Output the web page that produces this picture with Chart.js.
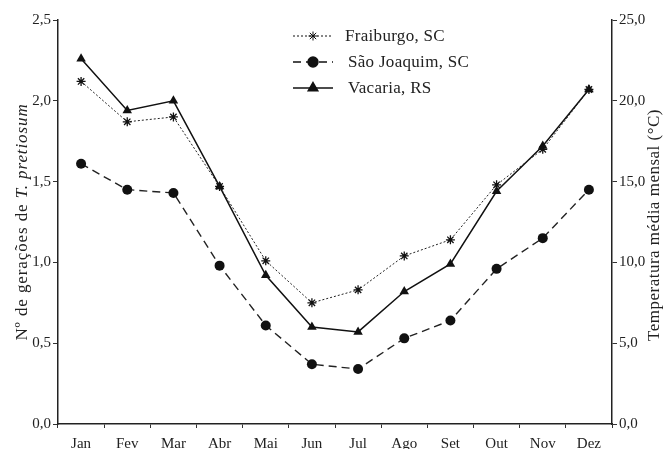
<!DOCTYPE html>
<html><head><meta charset="utf-8">
<script src="https://cdn.jsdelivr.net/npm/chart.js@4/dist/chart.umd.min.js"></script>
<style>html,body{margin:0;padding:0;background:#fff}canvas{display:block}</style>
</head><body>
<canvas id="c" width="664" height="449"></canvas>
<script>
const months = ['Jan','Fev','Mar','Abr','Mai','Jun','Jul','Ago','Set','Out','Nov','Dez'];
const fraiburgo = [2.12,1.87,1.90,1.47,1.01,0.75,0.83,1.04,1.14,1.48,1.70,2.07];
const saoJoaquim = [1.61,1.45,1.43,0.98,0.61,0.37,0.34,0.53,0.64,0.96,1.15,1.45];
const vacaria = [2.26,1.94,2.00,1.47,0.92,0.60,0.57,0.82,0.99,1.44,1.72,2.07];
const leftTitleA = 'Nº de gerações de ';
const leftTitleB = 'T. pretiosum';
const rightTitle = 'Temperatura média mensal (°C)';
const seriesNames = ['Fraiburgo, SC','São Joaquim, SC','Vacaria, RS'];

const FONT = '"Liberation Serif", "Times New Roman", serif';
const fmt = v => Number(v).toFixed(1).replace('.', ',');

const titlesPlugin = {
  id: 'titles',
  afterDraw(chart) {
    const ctx = chart.ctx;
    ctx.save();
    ctx.fillStyle = '#222';
    ctx.textBaseline = 'alphabetic';
    ctx.letterSpacing = '0.9px';
    ctx.translate(27, 222);
    ctx.rotate(-Math.PI / 2);
    ctx.font = '17px ' + FONT;
    const wA = ctx.measureText(leftTitleA).width;
    ctx.font = 'italic 17px ' + FONT;
    const wB = ctx.measureText(leftTitleB).width;
    const x0 = -(wA + wB) / 2;
    ctx.textAlign = 'left';
    ctx.font = '17px ' + FONT;
    ctx.fillText(leftTitleA, x0, 0);
    ctx.font = 'italic 17px ' + FONT;
    ctx.fillText(leftTitleB, x0 + wA, 0);
    ctx.restore();

    ctx.save();
    ctx.fillStyle = '#222';
    ctx.textBaseline = 'alphabetic';
    ctx.textAlign = 'center';
    ctx.letterSpacing = '0.5px';
    ctx.translate(659, 225);
    ctx.rotate(-Math.PI / 2);
    ctx.font = '17px ' + FONT;
    ctx.fillText(rightTitle, 0, 0);
    ctx.restore();

    // legend
    ctx.save();
    const ys = [36, 62, 88];
    chart.data.datasets.forEach((ds, i) => {
      const y = ys[i];
      ctx.strokeStyle = '#111';
      ctx.lineWidth = ds.borderWidth;
      ctx.setLineDash(ds.borderDash || []);
      ctx.beginPath();
      ctx.moveTo(293, y);
      ctx.lineTo(333, y);
      ctx.stroke();
      ctx.setLineDash([]);
      ctx.fillStyle = '#111';
      ctx.strokeStyle = '#111';
      Chart.helpers.drawPoint(ctx, {
        pointStyle: ds.pointStyle, rotation: 0, radius: ds.pointRadius, borderWidth: ds.pointStyle === 'star' ? 1.3 : 0.01
      }, 313, y);
      ctx.fillStyle = '#222';
      ctx.font = '17px ' + FONT;
      ctx.letterSpacing = '0.3px';
      ctx.textAlign = 'left';
      ctx.textBaseline = 'middle';
      ctx.fillText(ds.label, i === 0 ? 345 : 348, y + 1);
      ctx.letterSpacing = '0px';
    });
    ctx.restore();
  }
};

new Chart(document.getElementById('c'), {
  type: 'line',
  data: {
    labels: months,
    datasets: [
      { label: seriesNames[0], data: fraiburgo, borderColor: '#222', backgroundColor: '#222',
        borderWidth: 1, borderDash: [2, 2], pointStyle: 'star', pointRadius: 4.5,
        pointBorderWidth: 1.3, pointBorderColor: '#111', yAxisID: 'y', tension: 0 },
      { label: seriesNames[1], data: saoJoaquim, borderColor: '#222', backgroundColor: '#111',
        borderWidth: 1.4, borderDash: [8, 5], pointStyle: 'circle', pointRadius: 5,
        pointBorderWidth: 0, yAxisID: 'y', tension: 0 },
      { label: seriesNames[2], data: vacaria, borderColor: '#111', backgroundColor: '#111',
        borderWidth: 1.5, pointStyle: 'triangle', pointRadius: 5.5,
        pointBorderWidth: 0, yAxisID: 'y', tension: 0 }
    ]
  },
  options: {
    responsive: false,
    animation: false,
    devicePixelRatio: 1,
    layout: { padding: { top: 20, left: 0, right: 0, bottom: 0 } },
    plugins: { legend: { display: false }, tooltip: { enabled: false } },
    scales: {
      x: {
        offset: true,
        grid: { offset: true, drawOnChartArea: false, tickLength: 4, color: '#333', tickColor: '#333' },
        border: { color: '#222', width: 1.5 },
        ticks: { color: '#222', font: { family: FONT, size: 15 }, padding: 7, maxRotation: 0, autoSkip: false },
        afterFit(s) { s.height = 25; }
      },
      y: {
        position: 'left', min: 0, max: 2.5,
        grid: { drawOnChartArea: false, tickLength: 5, color: '#333', tickColor: '#333' },
        border: { color: '#222', width: 1.5 },
        ticks: { stepSize: 0.5, color: '#222', font: { family: FONT, size: 15 }, padding: 2, callback: v => fmt(v) },
        afterFit(s) { s.width = 58; }
      },
      y2: {
        position: 'right', min: 0, max: 25,
        grid: { drawOnChartArea: false, tickLength: 5, color: '#333', tickColor: '#333' },
        border: { color: '#222', width: 1.5 },
        ticks: { stepSize: 5, color: '#222', font: { family: FONT, size: 15 }, padding: 2, callback: v => fmt(v) },
        afterFit(s) { s.width = 52; }
      }
    }
  },
  plugins: [titlesPlugin]
});
</script>
</body></html>
